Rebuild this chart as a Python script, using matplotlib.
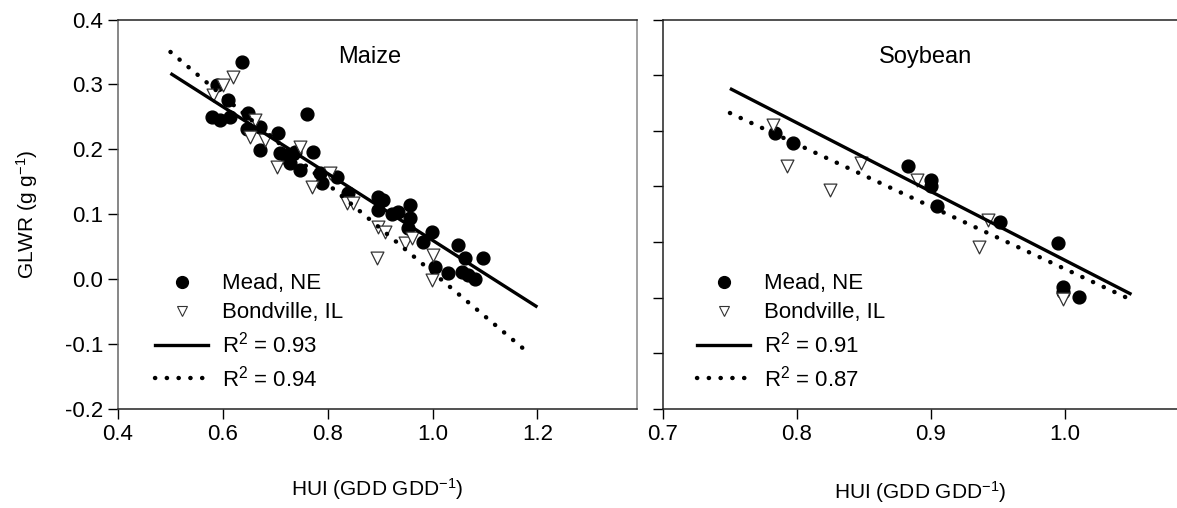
import matplotlib
matplotlib.use("Agg")
import matplotlib.pyplot as plt
from matplotlib.lines import Line2D

plt.rcParams['font.family'] = ['Liberation Sans', 'DejaVu Sans']
plt.rcParams['mathtext.fontset'] = 'custom'
plt.rcParams['mathtext.rm'] = 'Liberation Sans'
plt.rcParams['mathtext.it'] = 'Liberation Sans'
plt.rcParams['axes.unicode_minus'] = False

# ---- Maize (left panel) ----
maize_mead_x = [0.636, 0.588, 0.610, 0.580, 0.595, 0.614, 0.760, 0.648, 0.646, 0.671,
                0.705, 0.671, 0.709, 0.722, 0.738, 0.772, 0.747, 0.728, 0.785, 0.817,
                0.790, 0.839, 0.896, 0.906, 0.896, 0.922, 0.934, 0.957, 0.957, 0.954,
                0.999, 0.982, 1.049, 1.062, 1.097, 1.005, 1.030, 1.056, 1.068, 1.081]
maize_mead_y = [0.334, 0.299, 0.276, 0.250, 0.245, 0.250, 0.255, 0.256, 0.232, 0.235,
                0.225, 0.199, 0.194, 0.187, 0.196, 0.196, 0.168, 0.179, 0.163, 0.158,
                0.148, 0.133, 0.127, 0.122, 0.106, 0.101, 0.104, 0.114, 0.094, 0.079,
                0.073, 0.058, 0.052, 0.032, 0.032, 0.019, 0.009, 0.011, 0.006, 0.001]
maize_bond_x = [0.619, 0.600, 0.581, 0.661, 0.652, 0.680, 0.747, 0.703, 0.770, 0.804,
                0.836, 0.849, 0.896, 0.910, 0.948, 0.960, 0.894, 1.001, 0.999]
maize_bond_y = [0.312, 0.299, 0.284, 0.245, 0.219, 0.214, 0.204, 0.173, 0.142, 0.163,
                0.117, 0.117, 0.081, 0.073, 0.055, 0.063, 0.032, 0.037, -0.001]
maize_fit1_x = [0.50, 1.20]
maize_fit1_y = [0.317, -0.043]
maize_fit2_x = [0.50, 1.185]
maize_fit2_y = [0.350, -0.115]
maize_r2 = ['0.93', '0.94']

# ---- Soybean (right panel) ----
soy_mead_x = [0.784, 0.797, 0.883, 0.900, 0.900, 0.905, 0.952, 0.995, 0.999, 0.999, 1.011]
soy_mead_y = [0.148, 0.139, 0.118, 0.106, 0.100, 0.082, 0.068, 0.049, 0.010, 0.005, 0.001]
soy_bond_x = [0.782, 0.793, 0.825, 0.848, 0.890, 0.936, 0.943, 0.999]
soy_bond_y = [0.155, 0.118, 0.097, 0.121, 0.106, 0.046, 0.070, -0.001]
soy_fit1_x = [0.75, 1.05]
soy_fit1_y = [0.188, 0.003]
soy_fit2_x = [0.75, 1.05]
soy_fit2_y = [0.166, -0.002]
soy_r2 = ['0.91', '0.87']

dotted = (0, (0.05, 2.6))

fig = plt.figure(figsize=(11.77, 5.08), dpi=100)
ax1 = fig.add_axes([0.1003, 0.1949, 0.4409, 0.7667])
ax2 = fig.add_axes([0.5633, 0.1949, 0.4367, 0.7667])


def draw_panel(ax, mx, my, bx, by, f1x, f1y, f2x, f2y, r2, title, title_x, leg_x):
    ax.scatter(mx, my, s=85, c='black', edgecolors='black', zorder=3)
    ax.scatter(bx, by, s=85, marker='v', facecolors='white', edgecolors='#333333',
               linewidths=0.9, zorder=4)
    ax.plot(f1x, f1y, color='black', lw=2.4, solid_capstyle='butt', zorder=5)
    ax.plot(f2x, f2y, color='black', lw=3.2, linestyle=dotted,
            dash_capstyle='round', zorder=5)
    ax.text(title_x, 0.905, title, transform=ax.transAxes, ha='center', va='center',
            fontsize=17)
    handles = [
        Line2D([], [], marker='o', ls='none', color='black', markersize=8.5),
        Line2D([], [], marker='v', ls='none', markerfacecolor='white',
               markeredgecolor='#333333', markeredgewidth=0.8, markersize=7),
        Line2D([], [], color='black', lw=2.4),
        Line2D([], [], color='black', lw=3.2, linestyle=dotted, dash_capstyle='round'),
    ]
    labels = ['Mead, NE', 'Bondville, IL',
              'R$^{2}$ = ' + r2[0], 'R$^{2}$ = ' + r2[1]]
    ax.legend(handles, labels, loc='upper left', bbox_to_anchor=(leg_x, 0.348),
              frameon=False, fontsize=16, handlelength=2.4, handletextpad=0.6,
              labelspacing=0.36, borderaxespad=0.0, borderpad=0.0)
    ax.tick_params(direction='out', length=7, width=1, labelsize=16, colors='black')
    for sp in ax.spines.values():
        sp.set_color('#222222')
        sp.set_linewidth(1.1)


draw_panel(ax1, maize_mead_x, maize_mead_y, maize_bond_x, maize_bond_y,
           maize_fit1_x, maize_fit1_y, maize_fit2_x, maize_fit2_y, maize_r2,
           'Maize', 0.484, 0.071)
draw_panel(ax2, soy_mead_x, soy_mead_y, soy_bond_x, soy_bond_y,
           soy_fit1_x, soy_fit1_y, soy_fit2_x, soy_fit2_y, soy_r2,
           'Soybean', 0.51, 0.066)

ax1.set_xlim(0.4, 1.39)
ax1.set_ylim(-0.2, 0.4)
ax1.set_xticks([0.4, 0.6, 0.8, 1.0, 1.2])
ax1.set_yticks([-0.2, -0.1, 0.0, 0.1, 0.2, 0.3, 0.4])
ax1.xaxis.set_major_formatter(matplotlib.ticker.FormatStrFormatter('%.1f'))
ax1.yaxis.set_major_formatter(matplotlib.ticker.FormatStrFormatter('%.1f'))
ax1.spines['right'].set_color('#888888')
ax1.spines['left'].set_color('#666666')
ax1.set_ylabel('GLWR (g g$^{-1}$)', fontsize=15, labelpad=18)
ax1.set_xlabel('HUI (GDD GDD$^{-1}$)', fontsize=15, labelpad=23)

ax2.set_xlim(0.7, 1.084)
ax2.set_ylim(-0.1, 0.25)
ax2.set_xticks([0.7, 0.8, 0.9, 1.0])
ax2.set_yticks([-0.1, -0.05, 0.0, 0.05, 0.1, 0.15, 0.2, 0.25])
ax2.set_yticklabels([])
ax2.xaxis.set_major_formatter(matplotlib.ticker.FormatStrFormatter('%.1f'))
ax2.spines['right'].set_visible(False)
ax2.set_xlabel('HUI (GDD GDD$^{-1}$)', fontsize=15, labelpad=25)

fig.savefig('out.png', dpi=100)
